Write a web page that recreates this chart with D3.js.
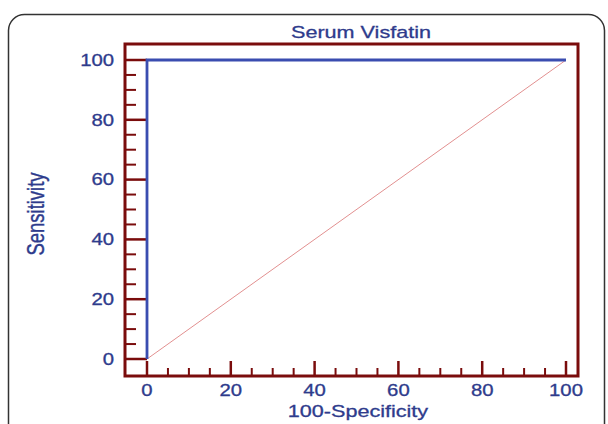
<!DOCTYPE html>
<html>
<head>
<meta charset="utf-8">
<script src="https://cdn.jsdelivr.net/npm/d3@7"></script>
<style>
body { margin: 0; background: #fff; }
text { font-family: "Liberation Sans", Arial, sans-serif; fill: #2e3b8c; stroke: #2e3b8c; stroke-width: 0.3; }
</style>
</head>
<body>
<script>
var rocX = [0, 0, 100];
var rocY = [0, 100, 100];
var refX = [0, 100];
var refY = [0, 100];
var majorTicks = [0, 20, 40, 60, 80, 100];
var minorTicks = [5, 10, 15, 25, 30, 35, 45, 50, 55, 65, 70, 75, 85, 90, 95];

var svg = d3.select('body').append('svg')
    .attr('width', 608)
    .attr('height', 424);

// outer rounded box
svg.append('rect')
    .attr('x', 8.5).attr('y', 14.5)
    .attr('width', 596).attr('height', 430)
    .attr('rx', 16)
    .attr('fill', 'none')
    .attr('stroke', '#333')
    .attr('stroke-width', 1.5);

var x = d3.scaleLinear().domain([0, 100]).range([147, 566]);
var y = d3.scaleLinear().domain([0, 100]).range([359, 60]);
var fLeft = 125, fRight = 578, fTop = 44, fBottom = 376;
var frameColor = '#7a0c0c';
var sx = 1.27; // text looks stretched sideways in the source

function lineOf(xs, ys) {
    return d3.line()
        .x(function(d){ return x(d[0]); })
        .y(function(d){ return y(d[1]); })(d3.zip(xs, ys));
}

// diagonal reference
svg.append('path')
    .attr('d', lineOf(refX, refY))
    .attr('fill', 'none')
    .attr('stroke', '#e29090')
    .attr('stroke-width', 1);

// y ticks (inward from left)
svg.selectAll('line.ymajor')
    .data(majorTicks)
    .enter().append('line')
    .attr('x1', fLeft).attr('x2', fLeft + 22)
    .attr('y1', function(d){ return y(d); })
    .attr('y2', function(d){ return y(d); })
    .attr('stroke', frameColor).attr('stroke-width', 2.5);
svg.selectAll('line.yminor')
    .data(minorTicks)
    .enter().append('line')
    .attr('x1', fLeft).attr('x2', fLeft + 11)
    .attr('y1', function(d){ return y(d); })
    .attr('y2', function(d){ return y(d); })
    .attr('stroke', frameColor).attr('stroke-width', 2);

// x ticks (up from bottom)
svg.selectAll('line.xmajor')
    .data(majorTicks)
    .enter().append('line')
    .attr('y1', fBottom).attr('y2', fBottom - 15)
    .attr('x1', function(d){ return x(d); })
    .attr('x2', function(d){ return x(d); })
    .attr('stroke', frameColor).attr('stroke-width', 2.5);
svg.selectAll('line.xminor')
    .data(minorTicks)
    .enter().append('line')
    .attr('y1', fBottom).attr('y2', fBottom - 8)
    .attr('x1', function(d){ return x(d); })
    .attr('x2', function(d){ return x(d); })
    .attr('stroke', frameColor).attr('stroke-width', 2);

// ROC curve
svg.append('path')
    .attr('d', lineOf(rocX, rocY))
    .attr('fill', 'none')
    .attr('stroke', '#3a4db0')
    .attr('stroke-width', 2.8);

// frame
svg.append('rect')
    .attr('x', fLeft).attr('y', fTop)
    .attr('width', fRight - fLeft).attr('height', fBottom - fTop)
    .attr('fill', 'none')
    .attr('stroke', frameColor)
    .attr('stroke-width', 3);

// tick labels
svg.selectAll('text.ylab')
    .data(majorTicks)
    .enter().append('text')
    .attr('transform', function(d){ return 'translate(114,' + y(d) + ') scale(' + sx + ',1)'; })
    .attr('dy', '0.36em')
    .attr('text-anchor', 'end')
    .attr('font-size', 16)
    .text(function(d){ return d; });
svg.selectAll('text.xlab')
    .data(majorTicks)
    .enter().append('text')
    .attr('transform', function(d){ return 'translate(' + x(d) + ',396) scale(' + sx + ',1)'; })
    .attr('text-anchor', 'middle')
    .attr('font-size', 16)
    .text(function(d){ return d; });

svg.append('text')
    .attr('transform', 'translate(361,38) scale(' + sx + ',1)')
    .attr('text-anchor', 'middle')
    .attr('font-size', 17)
    .text('Serum Visfatin');
svg.append('text')
    .attr('transform', 'translate(358,417) scale(' + sx + ',1)')
    .attr('text-anchor', 'middle')
    .attr('font-size', 17)
    .text('100-Specificity');
svg.append('text')
    .attr('transform', 'translate(44,214) scale(' + sx + ',1) rotate(-90)')
    .attr('text-anchor', 'middle')
    .attr('font-size', 18.5)
    .text('Sensitivity');
</script>
</body>
</html>
